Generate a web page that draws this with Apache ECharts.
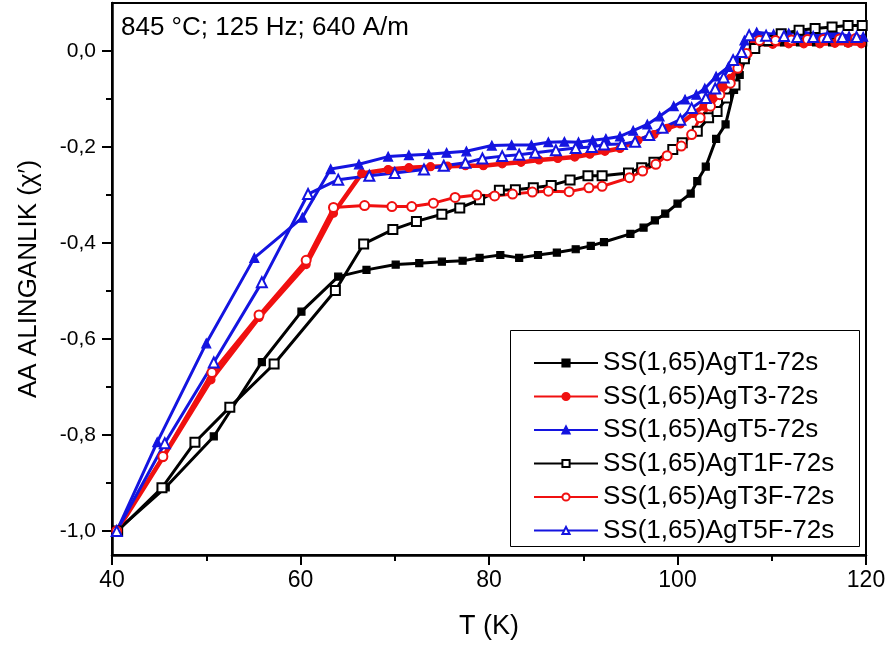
<!DOCTYPE html>
<html>
<head>
<meta charset="utf-8">
<script src="https://cdn.jsdelivr.net/npm/echarts@6/dist/echarts.min.js"></script>
<style>html,body{margin:0;padding:0;background:#fff}#c{width:889px;height:650px}</style>
</head>
<body>
<div id="c"></div>
<script>
// ---- data (T in K, chi') ----
const seriesNames = ['SS(1,65)AgT1-72s','SS(1,65)AgT3-72s','SS(1,65)AgT5-72s','SS(1,65)AgT1F-72s','SS(1,65)AgT3F-72s','SS(1,65)AgT5F-72s'];
const xTicks = [40, 60, 80, 100, 120];
const yTicks = [-1.0, -0.8, -0.6, -0.4, -0.2, 0.0];
const yMinorTicks = [-0.9, -0.7, -0.5, -0.3, -0.1];
const annotation = '845 °C; 125 Hz; 640 A/m';

const t1 = [[40.5,-1.0],[45.7,-0.909],[50.8,-0.803],[55.9,-0.648],[60.1,-0.543],[64.0,-0.470],[67.0,-0.456],[70.1,-0.445],[72.6,-0.442],[75.0,-0.439],[77.2,-0.437],[79.0,-0.431],[81.2,-0.425],[83.2,-0.431],[85.2,-0.425],[87.2,-0.420],[89.2,-0.413],[90.8,-0.406],[92.2,-0.398],[95.0,-0.381],[96.4,-0.368],[97.6,-0.353],[98.7,-0.339],[100.0,-0.318],[101.4,-0.297],[102.1,-0.271],[103.0,-0.241],[104.1,-0.183],[105.1,-0.153],[106.0,-0.081],[106.6,-0.050],[107.3,-0.010],[108.0,0.015],[109.6,0.018],[111.3,0.018],[113.0,0.018],[114.7,0.018],[116.4,0.018],[118.1,0.018],[119.7,0.018]];
const t3 = [[40.5,-1.0],[45.4,-0.847],[50.5,-0.685],[55.6,-0.555],[60.6,-0.445],[63.5,-0.338],[66.5,-0.255],[69.3,-0.247],[71.5,-0.243],[73.8,-0.241],[75.6,-0.240],[77.5,-0.239],[79.4,-0.239],[81.4,-0.235],[83.4,-0.232],[85.3,-0.227],[87.3,-0.224],[89.1,-0.221],[90.7,-0.215],[92.3,-0.209],[93.9,-0.203],[95.8,-0.186],[97.5,-0.174],[98.9,-0.161],[100.3,-0.152],[101.7,-0.130],[102.8,-0.115],[103.8,-0.095],[104.7,-0.075],[105.6,-0.057],[106.5,-0.033],[107.5,-0.005],[108.1,0.014],[110.1,0.014],[111.8,0.015],[113.4,0.015],[115.1,0.015],[116.7,0.016],[118.1,0.016],[119.5,0.015]];
const t5 = [[40.5,-1.0],[44.8,-0.815],[50.0,-0.609],[55.1,-0.431],[60.2,-0.347],[63.2,-0.246],[66.2,-0.236],[69.3,-0.220],[71.5,-0.217],[73.6,-0.215],[75.5,-0.212],[77.6,-0.209],[80.3,-0.197],[82.4,-0.196],[84.5,-0.196],[86.3,-0.190],[88.0,-0.189],[89.5,-0.190],[91.0,-0.186],[92.4,-0.183],[93.9,-0.178],[95.3,-0.166],[96.8,-0.153],[98.1,-0.136],[99.6,-0.115],[100.8,-0.101],[102.0,-0.091],[102.9,-0.078],[104.1,-0.053],[105.4,-0.033],[106.4,-0.016],[107.1,0.022],[108.4,0.039],[110.2,0.035],[111.8,0.037],[113.3,0.040],[114.7,0.033],[116.6,0.038],[118.2,0.031],[119.7,0.030]];
const t1f = [[40.6,-1.0],[45.3,-0.910],[48.8,-0.815],[52.5,-0.742],[57.2,-0.652],[63.7,-0.499],[66.7,-0.402],[69.8,-0.372],[72.3,-0.355],[75.0,-0.340],[76.9,-0.327],[79.0,-0.310],[81.1,-0.290],[82.8,-0.289],[84.7,-0.285],[86.6,-0.280],[88.6,-0.269],[90.5,-0.260],[92.0,-0.260],[94.8,-0.254],[96.2,-0.243],[97.5,-0.232],[99.5,-0.205],[100.5,-0.191],[102.1,-0.167],[103.3,-0.139],[104.2,-0.126],[105.2,-0.098],[106.1,-0.071],[107.1,-0.016],[108.2,0.005],[109.6,0.022],[111.0,0.036],[112.9,0.043],[114.6,0.047],[116.4,0.050],[118.1,0.053],[119.6,0.053]];
const t3f = [[40.5,-1.0],[45.4,-0.845],[50.6,-0.670],[55.6,-0.550],[60.6,-0.436],[63.5,-0.326],[66.8,-0.322],[69.7,-0.324],[71.8,-0.324],[74.1,-0.317],[76.4,-0.305],[78.7,-0.300],[80.6,-0.302],[82.5,-0.298],[84.6,-0.294],[86.3,-0.292],[88.5,-0.293],[90.6,-0.285],[92.0,-0.282],[94.9,-0.264],[96.3,-0.250],[97.7,-0.236],[98.9,-0.218],[100.4,-0.198],[101.5,-0.174],[102.4,-0.139],[103.5,-0.115],[104.5,-0.091],[105.6,-0.067],[106.4,-0.036],[107.3,-0.005],[108.7,0.022],[110.4,0.022],[112.1,0.023],[113.8,0.024],[115.5,0.024],[117.2,0.025],[118.9,0.026]];
const t5f = [[40.5,-1.0],[45.6,-0.817],[50.8,-0.649],[55.9,-0.482],[60.8,-0.298],[64.0,-0.268],[67.3,-0.260],[70.0,-0.254],[73.1,-0.247],[75.2,-0.239],[77.5,-0.233],[79.3,-0.224],[81.4,-0.219],[83.2,-0.216],[84.9,-0.212],[87.1,-0.207],[89.2,-0.202],[90.9,-0.200],[92.2,-0.195],[94.1,-0.194],[95.5,-0.189],[97.0,-0.175],[98.4,-0.160],[100.3,-0.143],[101.5,-0.119],[103.0,-0.098],[104.0,-0.078],[104.9,-0.055],[105.9,-0.019],[106.8,-0.002],[107.6,0.033],[109.4,0.032],[111.3,0.031],[112.7,0.029],[114.4,0.029],[115.9,0.029],[117.5,0.029],[119.0,0.029]];

// ---- chart ----
const FONT = '"Liberation Sans", Arial, sans-serif';
const BLACK = '#000000', RED = '#f01010', BLUE = '#1414e0';
const fmt = v => (Math.abs(v) < 1e-9 ? 0 : v).toFixed(1).replace('.', ',');

function mk(name, data, color, symbol, size, width) {
  return {
    name, type: 'line', data, xAxisIndex: 0, yAxisIndex: 0,
    symbol, symbolSize: size, showSymbol: true,
    lineStyle: { color, width },
    itemStyle: { color, borderColor: color, borderWidth: 1.2 },
    emphasis: { disabled: true },
    animation: false, z: 3
  };
}

const chart = echarts.init(document.getElementById('c'), null, { renderer: 'canvas' });
chart.setOption({
  backgroundColor: '#fff',
  animation: false,
  grid: { left: 112, right: 23, top: 3, bottom: 95, show: true, borderColor: BLACK, borderWidth: 2, containLabel: false },
  xAxis: [{
    type: 'value', min: 40, max: 120, interval: 20,
    axisLine: { show: true, onZero: false, lineStyle: { color: BLACK, width: 2.5 } },
    axisTick: { show: true, inside: false, length: 10, lineStyle: { color: BLACK, width: 2 } },
    minorTick: { show: true, splitNumber: 2, length: 6, lineStyle: { color: BLACK, width: 2 } },
    splitLine: { show: false },
    axisLabel: { color: BLACK, fontSize: 23, fontFamily: FONT, margin: 14, customValues: xTicks },
    name: 'T (K)', nameLocation: 'middle', nameGap: 58,
    nameTextStyle: { color: BLACK, fontSize: 27, fontFamily: FONT }
  }],
  yAxis: [{
    type: 'value', min: -1.05, max: 0.1,
    axisLine: { show: true, onZero: false, lineStyle: { color: BLACK, width: 2.5 } },
    axisTick: { show: true, inside: false, length: 10, customValues: yTicks, lineStyle: { color: BLACK, width: 2 } },
    splitLine: { show: false },
    axisLabel: { color: BLACK, fontSize: 21, fontFamily: FONT, margin: 16, customValues: yTicks, formatter: fmt },
    name: "AA ALINGANLIK (χ′)", nameLocation: 'middle', nameGap: 70, nameRotate: 90,
    nameTextStyle: { color: BLACK, fontSize: 26, fontFamily: FONT }
  }, {
    type: 'value', min: -1.05, max: 0.1, position: 'left',
    axisLine: { show: false },
    axisTick: { show: true, inside: false, length: 6, customValues: yMinorTicks, lineStyle: { color: BLACK, width: 2 } },
    axisLabel: { show: false }, splitLine: { show: false }
  }],
  legend: {
    orient: 'vertical', left: 533, top: 348, padding: 0,
    itemWidth: 64, itemHeight: 9, itemGap: 3.5,
    textStyle: { color: BLACK, fontSize: 26, fontFamily: FONT, lineHeight: 30 },
    data: seriesNames
  },
  graphic: [
    { type: 'rect', left: 510, top: 330, shape: { width: 349, height: 216 }, style: { fill: 'transparent', stroke: BLACK, lineWidth: 1 }, z: 1 },
    { type: 'text', left: 121, top: 15, style: { text: annotation, fill: BLACK, font: '26px ' + FONT }, z: 5 }
  ],
  series: [
    mk(seriesNames[0], t1, BLACK, 'rect', 7, 3),
    mk(seriesNames[1], t3, RED, 'circle', 8, 4.5),
    mk(seriesNames[2], t5, BLUE, 'triangle', 9, 3),
    mk(seriesNames[3], t1f, BLACK, 'emptyRect', 9, 3),
    mk(seriesNames[4], t3f, RED, 'emptyCircle', 9, 3),
    mk(seriesNames[5], t5f, BLUE, 'emptyTriangle', 10, 3)
  ]
});
</script>
</body>
</html>
